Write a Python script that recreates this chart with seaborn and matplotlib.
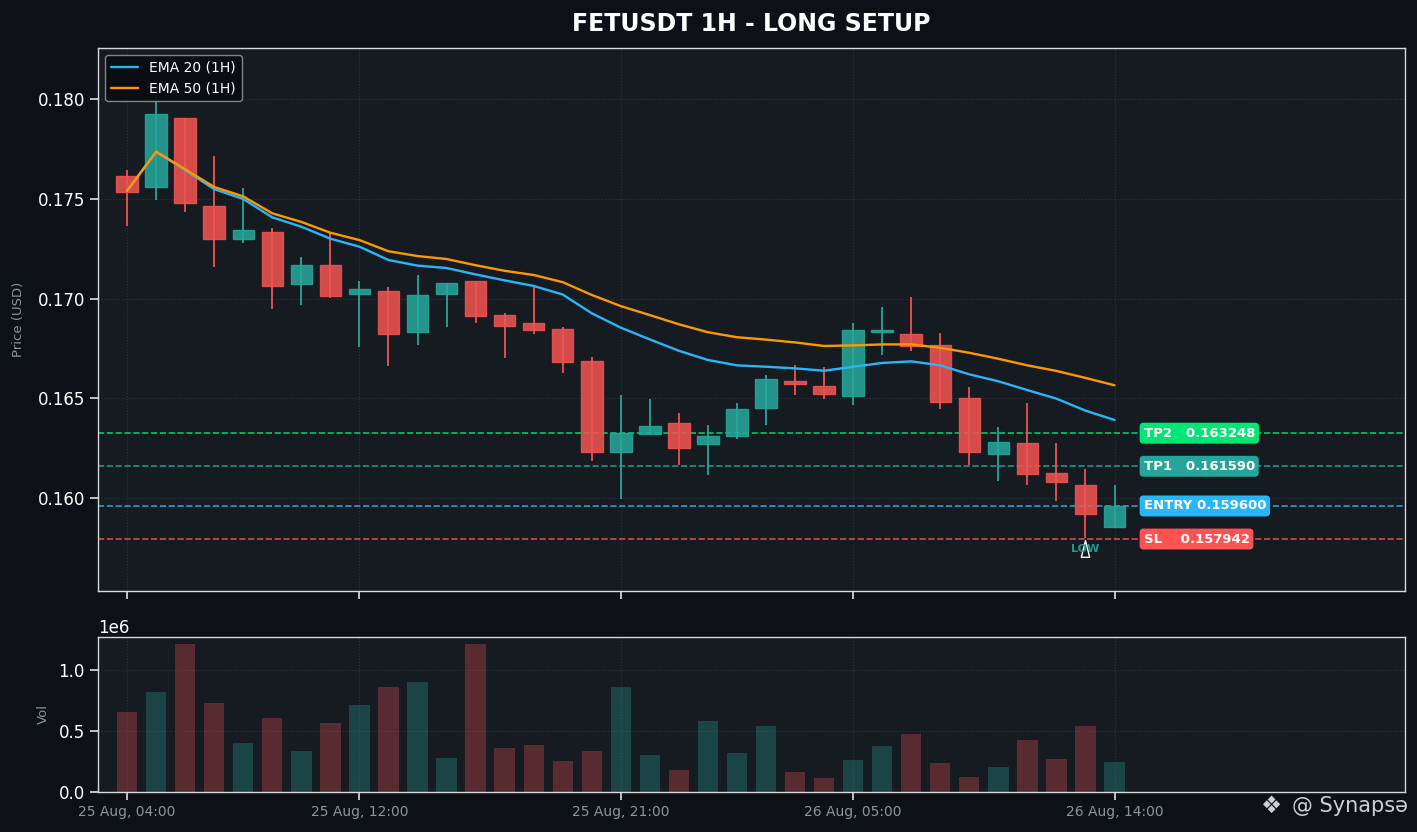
import numpy as np
import pandas as pd
import matplotlib
matplotlib.use("Agg")
import matplotlib.pyplot as plt
from matplotlib.ticker import MultipleLocator
import seaborn as sns

# hourly candles, 25 Aug 04:00 -> 26 Aug 14:00
opens = [0.17614, 0.17558, 0.17904, 0.17462, 0.17297, 0.17332, 0.17071, 0.17167, 0.17021, 0.17036,
         0.16831, 0.17021, 0.17088, 0.16916, 0.16876, 0.16846, 0.16685, 0.16229, 0.16319, 0.16375,
         0.16269, 0.16311, 0.16451, 0.16585, 0.16563, 0.16510, 0.16831, 0.16824, 0.16766, 0.16503,
         0.16221, 0.16274, 0.16124, 0.16064, 0.15856]
highs = [0.17644, 0.18020, 0.17905, 0.17714, 0.17554, 0.17352, 0.17208, 0.17327, 0.17088, 0.17058,
         0.17118, 0.17076, 0.17088, 0.16927, 0.17064, 0.16857, 0.16705, 0.16515, 0.16496, 0.16425,
         0.16364, 0.16475, 0.16615, 0.16665, 0.16655, 0.16876, 0.16956, 0.17008, 0.16826, 0.16555,
         0.16356, 0.16476, 0.16276, 0.16145, 0.16065]
lows = [0.17365, 0.17494, 0.17435, 0.17160, 0.17277, 0.16949, 0.16969, 0.17001, 0.16757, 0.16662,
        0.16767, 0.16859, 0.16879, 0.16702, 0.16821, 0.16628, 0.16187, 0.15997, 0.16319, 0.16165,
        0.16117, 0.16297, 0.16368, 0.16518, 0.16498, 0.16468, 0.16718, 0.16738, 0.16448, 0.16165,
        0.16087, 0.16067, 0.15987, 0.15800, 0.15856]
closes = [0.17535, 0.17924, 0.17477, 0.17297, 0.17342, 0.17061, 0.17167, 0.17011, 0.17046, 0.16821,
          0.17016, 0.17076, 0.16911, 0.16861, 0.16841, 0.16680, 0.16229, 0.16324, 0.16362, 0.16249,
          0.16312, 0.16445, 0.16595, 0.16570, 0.16520, 0.16844, 0.16844, 0.16761, 0.16480, 0.16229,
          0.16282, 0.16119, 0.16079, 0.15918, 0.15960]
volumes = [658000, 822000, 1208000, 732000, 404000, 609000, 339000, 568000, 708000, 863000,
           904000, 281000, 1208000, 363000, 388000, 257000, 339000, 863000, 306000, 183000,
           585000, 322000, 536000, 167000, 117000, 265000, 380000, 478000, 240000, 126000,
           208000, 429000, 273000, 544000, 249000]

ema20 = [0.17540, 0.17736, 0.17644, 0.17548, 0.17499, 0.17407, 0.17360, 0.17300, 0.17260, 0.17193,
         0.17165, 0.17153, 0.17121, 0.17091, 0.17063, 0.17020, 0.16926, 0.16854, 0.16795, 0.16738,
         0.16692, 0.16665, 0.16658, 0.16650, 0.16638, 0.16658, 0.16677, 0.16685, 0.16665, 0.16620,
         0.16585, 0.16541, 0.16498, 0.16438, 0.16391]
ema50 = [0.17540, 0.17736, 0.17648, 0.17559, 0.17512, 0.17427, 0.17384, 0.17330, 0.17293, 0.17237,
         0.17213, 0.17198, 0.17167, 0.17139, 0.17118, 0.17082, 0.17018, 0.16962, 0.16917, 0.16871,
         0.16831, 0.16806, 0.16794, 0.16780, 0.16762, 0.16765, 0.16770, 0.16770, 0.16753, 0.16728,
         0.16698, 0.16665, 0.16637, 0.16602, 0.16565]

tick_idx = [0, 8, 17, 25, 34]
tick_labels = ["25 Aug, 04:00", "25 Aug, 12:00", "25 Aug, 21:00", "26 Aug, 05:00", "26 Aug, 14:00"]

level_names = ["TP2", "TP1", "ENTRY", "SL"]
level_values = [0.163248, 0.161590, 0.159600, 0.157942]
level_colors = ["#00e676", "#26a69a", "#29b6f6", "#ff5252"]

BG = "#0d1117"
PANEL = "#161b22"
UP = "#26a69a"
DOWN = "#ef5350"
SPINE = "#d8d8d8"
MUTED = "#8b949e"
GRID = "#2f343c"

sns.set_theme(style="ticks", rc={
    "figure.facecolor": BG,
    "axes.facecolor": PANEL,
    "axes.edgecolor": SPINE,
    "axes.linewidth": 1.0,
    "xtick.color": SPINE,
    "ytick.color": SPINE,
})
plt.rcParams["font.family"] = ["DejaVu Sans"]

fig, (ax, axv) = plt.subplots(2, 1, figsize=(14.17, 8.32), dpi=100, sharex=True,
                              gridspec_kw={"height_ratios": [543, 155], "hspace": 0.132})
fig.subplots_adjust(left=0.0692, right=0.9915, top=0.9423, bottom=0.0481)

x = np.arange(len(opens))
o = np.array(opens)
h = np.array(highs)
l = np.array(lows)
c = np.array(closes)
up = c >= o
colors = np.where(up, UP, DOWN)

# candles
ax.vlines(x, l, h, colors=colors, linewidth=1.3, zorder=2)
ax.bar(x, np.abs(c - o), bottom=np.minimum(o, c), width=0.74, color=colors,
       edgecolor=colors, linewidth=1.0, alpha=0.88, zorder=3)

# EMAs
sns.lineplot(x=x, y=ema20, ax=ax, color="#29b6f6", linewidth=1.7, label="EMA 20 (1H)", zorder=4)
sns.lineplot(x=x, y=ema50, ax=ax, color="#ff9800", linewidth=1.7, label="EMA 50 (1H)", zorder=4)

# trade levels
for name, val, col in zip(level_names, level_values, level_colors):
    ax.axhline(val, color=col, linestyle="--", linewidth=1.2, alpha=0.85, zorder=1)
    ax.text(35.0, val, f"{name:<6}{val:.6f}", color="white", fontsize=9.5, fontweight="bold",
            ha="left", va="center", zorder=6,
            bbox=dict(boxstyle="round,pad=0.3", fc=col, ec="none"))

# low marker
low_i = int(np.argmin(l))
ax.annotate("", xy=(low_i, l[low_i]), xytext=(0, -16), textcoords="offset points",
            arrowprops=dict(arrowstyle="wedge,tail_width=0.5", fc=PANEL, ec="white", lw=1.0),
            zorder=6)
ax.annotate("LOW", xy=(low_i, l[low_i]), xytext=(0, -8), textcoords="offset points",
            ha="center", va="center", color=UP, fontsize=8, fontweight="bold", alpha=0.9, zorder=7)

ax.set_ylim(0.15534, 0.18256)
ax.yaxis.set_major_locator(MultipleLocator(0.005))
ax.yaxis.set_major_formatter(matplotlib.ticker.FormatStrFormatter("%.3f"))
ax.set_ylabel("Price (USD)", color=MUTED, fontsize=9.5, labelpad=9)
ax.tick_params(axis="y", labelsize=12, labelcolor="white")
ax.grid(True, linestyle=":", color=GRID, linewidth=0.8)
ax.set_axisbelow(True)

leg = ax.legend(loc="upper left", fontsize=10, facecolor="#0a0d12", edgecolor="#8b8b8b",
                labelcolor="white", framealpha=0.95, borderpad=0.4)

# volume
vol_df = pd.DataFrame({"x": x, "vol": volumes, "dir": np.where(up, "up", "down")})
sns.barplot(data=vol_df, x="x", y="vol", hue="dir", palette={"up": UP, "down": DOWN},
            native_scale=True, dodge=False, width=0.7, alpha=0.3, errorbar=None,
            legend=False, saturation=1, linewidth=0, ax=axv)
axv.set_ylim(0, max(volumes) * 1.05)
axv.yaxis.set_major_locator(MultipleLocator(500000))
axv.set_ylabel("Vol", color=MUTED, fontsize=9.5, labelpad=6)
axv.set_xlabel("")
axv.tick_params(axis="y", labelsize=12, labelcolor="white")
axv.tick_params(axis="x", labelsize=10, labelcolor=MUTED)
axv.yaxis.get_offset_text().set_color("white")
axv.yaxis.get_offset_text().set_fontsize(12)
axv.grid(True, linestyle=":", color=GRID, linewidth=0.8)
axv.set_axisbelow(True)

axv.set_xticks(tick_idx)
axv.set_xticklabels(tick_labels)
axv.set_xlim(-1, 44)

# title centred over the plot area
fig.suptitle("FETUSDT 1H - LONG SETUP", color="white", fontsize=17, fontweight="bold",
             x=0.5303, y=0.971, va="center")

# watermark
fig.text(0.897, 0.031, "\u2756", ha="center", va="center", color="#cfcfcf", fontsize=17)
fig.text(0.9935, 0.031, "@ Synaps\u0259", ha="right", va="center", color="#cfcfcf", fontsize=15)

fig.savefig("out.png", dpi=100, facecolor=BG)
